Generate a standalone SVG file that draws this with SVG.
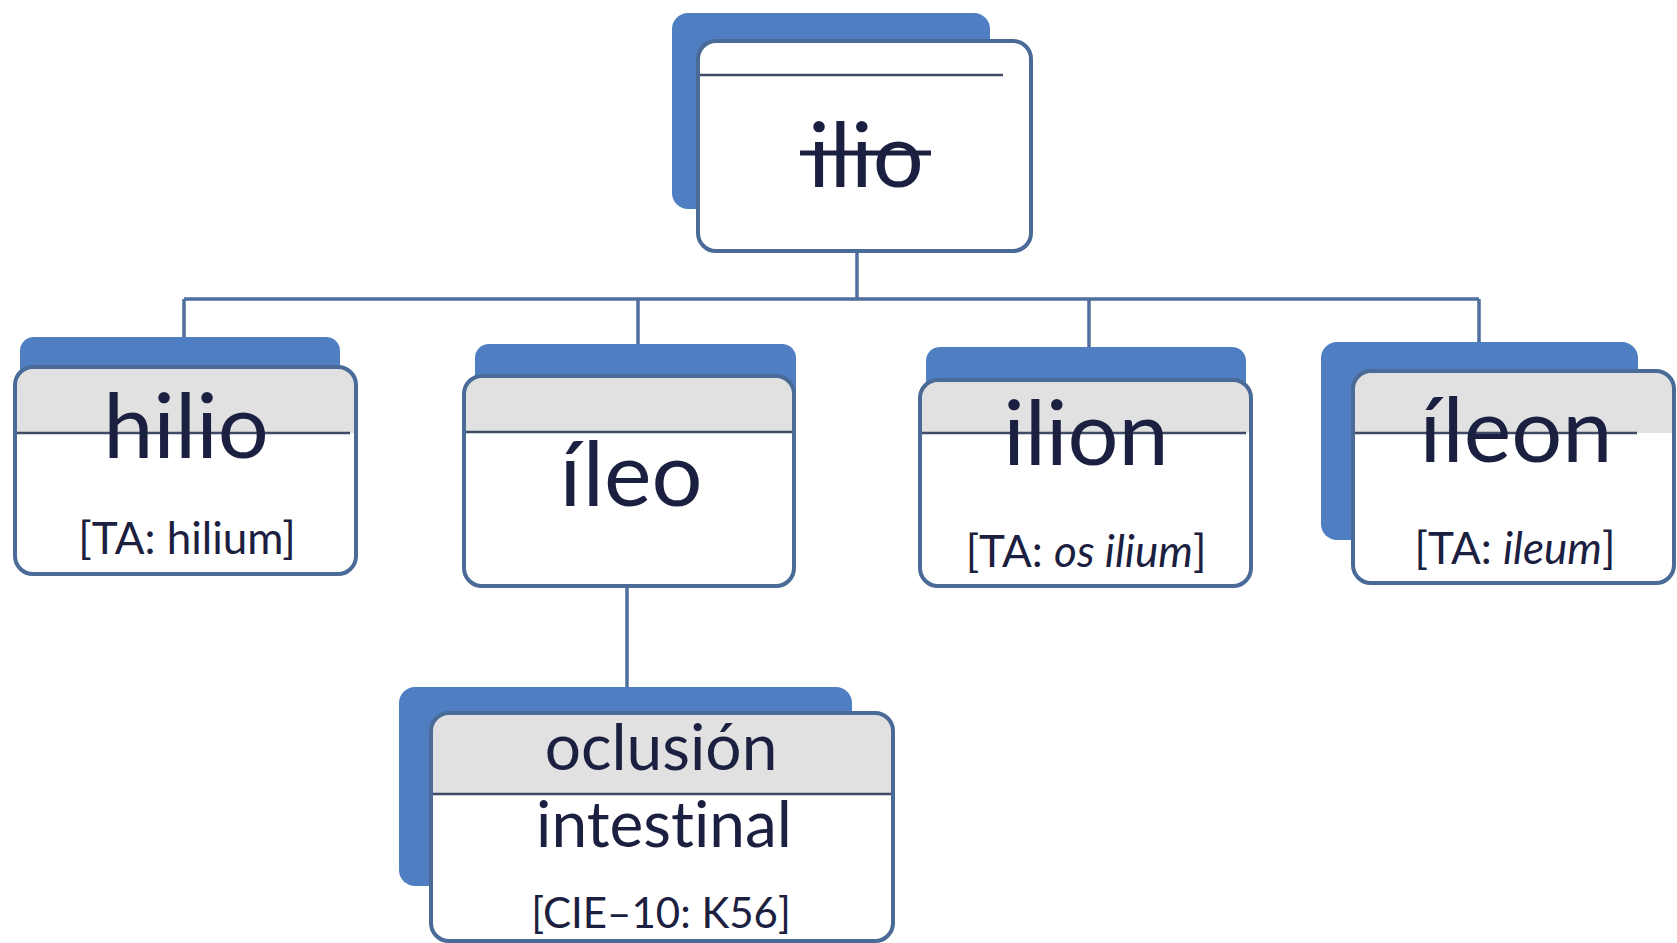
<svg xmlns="http://www.w3.org/2000/svg" width="1677" height="943" viewBox="0 0 1677 943">
<style>
.back{fill:#4f7fc2;}
.front{fill:#ffffff;}
.frame{fill:none;stroke:#4a6b98;stroke-width:4;}
.band{fill:#e1e1e1;}
.sep{stroke:#3e4a66;stroke-width:2.5;}
.conn{fill:none;stroke:#4f6f9e;stroke-width:3.5;}
text{font-family:Lato,"Open Sans","Liberation Sans",sans-serif;fill:#1c2040;text-anchor:middle;font-variant-ligatures:none;}
.big{font-size:90px;}
.mid{font-size:64px;}
.small{font-size:44px;}
.cie{font-size:42px;}
</style>
<rect width="1677" height="943" fill="#ffffff"/>
<g id="connectors">
<path class="conn" d="M857,251 V299 M184,299 H1479 M184,299 V338 M638,299 V344 M1089,299 V347 M1479,299 V342"/>
<path class="conn" d="M627,586 V688"/>
</g>
<g id="node-ilio">
<rect class="back" x="672" y="13" width="318" height="196" rx="16"/>
<rect class="front" x="698" y="41" width="333" height="210" rx="18"/>
<line class="sep" x1="700" y1="75" x2="1003" y2="75"/>
<rect class="frame" x="698" y="41" width="333" height="210" rx="18"/>
<text class="big" x="866" y="187">ilio</text>
<line x1="800" y1="153" x2="931" y2="153" stroke="#1c2040" stroke-width="5"/>
</g>
<g id="node-hilio">
<rect class="back" x="20" y="337" width="320" height="200" rx="14"/>
<rect class="front" x="15" y="367" width="341" height="207" rx="18"/>
<path class="band" d="M17,433 V385 Q17,369 33,369 H338 Q354,369 354,385 V433 Z"/>
<line class="sep" x1="15" y1="433" x2="350" y2="433"/>
<rect class="frame" x="15" y="367" width="341" height="207" rx="18"/>
<text class="big" x="186" y="458">hilio</text>
<text class="small" x="187" y="554">[TA: hilium]</text>
</g>
<g id="node-ileo">
<rect class="back" x="475" y="344" width="321" height="200" rx="14"/>
<rect class="front" x="464" y="376" width="330" height="210" rx="18"/>
<path class="band" d="M466,432 V394 Q466,378 482,378 H776 Q792,378 792,394 V432 Z"/>
<line class="sep" x1="464" y1="432" x2="794" y2="432"/>
<rect class="frame" x="464" y="376" width="330" height="210" rx="18"/>
<text class="big" x="631" y="506">íleo</text>
</g>
<g id="node-ilion">
<rect class="back" x="926" y="347" width="320" height="200" rx="14"/>
<rect class="front" x="920" y="380" width="331" height="206" rx="18"/>
<path class="band" d="M922,433 V398 Q922,382 938,382 H1233 Q1249,382 1249,398 V433 Z"/>
<line class="sep" x1="920" y1="433" x2="1246" y2="433"/>
<rect class="frame" x="920" y="380" width="331" height="206" rx="18"/>
<text class="big" x="1086" y="465">ilion</text>
<text class="small" x="1086" y="567">[TA: <tspan font-style="italic">os ilium</tspan>]</text>
</g>
<g id="node-ileon">
<rect class="back" x="1321" y="342" width="317" height="198" rx="16"/>
<rect class="front" x="1353" y="371" width="321" height="212" rx="18"/>
<path class="band" d="M1355,433 V389 Q1355,373 1371,373 H1656 Q1672,373 1672,389 V433 Z"/>
<line class="sep" x1="1353" y1="433" x2="1637" y2="433"/>
<rect class="frame" x="1353" y="371" width="321" height="212" rx="18"/>
<text class="big" x="1516" y="462">íleon</text>
<text class="small" x="1515" y="564">[TA: <tspan font-style="italic">ileum</tspan>]</text>
</g>
<g id="node-oclusion">
<rect class="back" x="399" y="687" width="453" height="199" rx="16"/>
<rect class="front" x="431" y="713" width="462" height="228" rx="18"/>
<path class="band" d="M433,794 V731 Q433,715 449,715 H875 Q891,715 891,731 V794 Z"/>
<line class="sep" x1="431" y1="794" x2="893" y2="794"/>
<rect class="frame" x="431" y="713" width="462" height="228" rx="18"/>
<text class="mid" x="661" y="770">oclusión</text>
<text class="mid" x="664" y="847">intestinal</text>
<text class="cie" x="661" y="928">[CIE–10: K56]</text>
</g>
</svg>
